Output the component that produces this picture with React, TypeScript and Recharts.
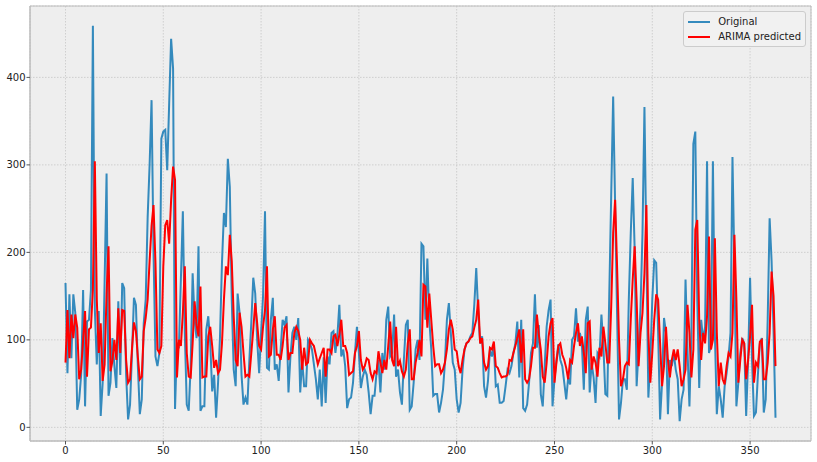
import {
  LineChart,
  Line,
  XAxis,
  YAxis,
  CartesianGrid,
  Legend,
  ReferenceArea,
} from "recharts";

// original series, one value per day (index 0..363)
const original = [
  165, 62, 152, 79, 152, 131, 20, 32, 60, 157,
  24, 121, 123, 157, 459, 135, 72, 133, 13, 51,
  167, 290, 36, 51, 102, 70, 45, 144, 60, 165,
  159, 60, 9, 26, 85, 148, 140, 70, 15, 32,
  119, 146, 240, 300, 374, 200, 81, 70, 85, 330,
  338, 340, 294, 370, 444, 410, 21, 96, 93, 170,
  247, 108, 26, 19, 70, 176, 123, 102, 207, 19,
  24, 24, 112, 127, 96, 41, 60, 11, 51, 104,
  188, 245, 229, 307, 275, 146, 66, 47, 153, 131,
  60, 26, 34, 26, 77, 120, 171, 153, 100, 62,
  108, 150, 247, 68, 66, 123, 148, 66, 72, 53,
  89, 123, 117, 127, 40, 81, 108, 115, 100, 125,
  40, 77, 47, 47, 100, 96, 89, 72, 55, 32,
  66, 24, 80, 28, 81, 72, 108, 110, 85, 104,
  140, 81, 89, 70, 22, 32, 34, 51, 85, 115,
  85, 45, 58, 66, 60, 40, 15, 36, 36, 62,
  77, 40, 85, 66, 123, 138, 81, 85, 129, 58,
  66, 40, 26, 77, 117, 123, 20, 24, 51, 89,
  100, 77, 210, 207, 123, 193, 123, 89, 36, 38,
  38, 17, 28, 43, 74, 123, 142, 108, 74, 66,
  32, 17, 28, 66, 89, 96, 98, 104, 108, 140,
  182, 131, 96, 104, 47, 34, 53, 89, 81, 93,
  47, 49, 28, 28, 30, 47, 66, 62, 70, 85,
  96, 121, 57, 123, 22, 19, 26, 51, 85, 96,
  152, 91, 117, 38, 24, 70, 115, 134, 146, 24,
  55, 77, 95, 77, 70, 51, 32, 57, 49, 100,
  104, 136, 98, 108, 96, 43, 123, 138, 40, 74,
  57, 28, 85, 81, 129, 93, 38, 36, 150, 265,
  378, 255, 130, 9, 28, 55, 55, 43, 146, 222,
  285, 203, 47, 89, 138, 222, 366, 200, 34, 77,
  146, 191, 188, 108, 9, 51, 125, 108, 15, 77,
  70, 85, 66, 55, 7, 32, 43, 169, 89, 24,
  108, 324, 338, 146, 45, 123, 100, 115, 304, 85,
  93, 304, 108, 15, 47, 32, 11, 47, 62, 81,
  108, 309, 184, 24, 51, 85, 102, 96, 13, 77,
  171, 77, 13, 17, 60, 96, 102, 17, 32, 123,
  239, 190, 110, 11,
];

// one-step ARIMA predictions
const predicted = [
  74, 134, 79, 129, 102, 129, 114, 55, 66, 100,
  133, 58, 112, 114, 157, 304, 146, 85, 119, 53,
  72, 153, 207, 64, 76, 100, 77, 136, 85, 134,
  133, 77, 51, 55, 90, 120, 110, 80, 55, 58,
  110, 125, 146, 190, 230, 254, 188, 89, 85, 93,
  184, 231, 237, 210, 260, 298, 283, 57, 100, 93,
  131, 184, 85, 58, 57, 96, 144, 117, 104, 161,
  57, 58, 58, 104, 115, 93, 68, 77, 62, 66,
  96, 146, 184, 174, 220, 190, 127, 77, 70, 131,
  115, 85, 58, 60, 58, 85, 112, 142, 119, 93,
  89, 115, 134, 184, 81, 83, 112, 127, 83, 83,
  77, 93, 114, 117, 77, 85, 85, 108, 115, 110,
  100, 66, 91, 72, 74, 100, 96, 93, 83, 72,
  79, 85, 91, 58, 89, 89, 85, 104, 106, 93,
  106, 123, 93, 93, 85, 60, 62, 64, 85, 93,
  110, 77, 66, 70, 79, 77, 62, 55, 64, 62,
  87, 74, 62, 77, 66, 93, 121, 77, 70, 115,
  70, 76, 64, 58, 66, 96, 112, 55, 55, 74,
  85, 100, 81, 163, 161, 114, 153, 123, 93, 70,
  72, 72, 62, 66, 74, 89, 112, 123, 112, 89,
  87, 70, 62, 77, 89, 96, 98, 102, 104, 114,
  123, 146, 96, 102, 74, 66, 70, 91, 89, 98,
  70, 68, 62, 57, 58, 58, 60, 77, 76, 85,
  93, 102, 112, 74, 112, 55, 51, 55, 70, 91,
  91, 129, 106, 89, 58, 51, 74, 104, 119, 125,
  51, 74, 93, 96, 83, 77, 68, 55, 77, 74,
  93, 108, 119, 93, 104, 85, 62, 119, 121, 66,
  81, 74, 58, 91, 81, 115, 96, 74, 74, 138,
  222, 260, 184, 100, 47, 55, 70, 74, 72, 123,
  169, 207, 146, 70, 108, 131, 176, 254, 108, 51,
  85, 123, 152, 146, 96, 47, 70, 115, 77, 57,
  77, 89, 77, 89, 70, 47, 55, 66, 140, 108,
  57, 89, 226, 237, 123, 77, 108, 96, 127, 218,
  89, 100, 216, 108, 47, 74, 55, 49, 70, 85,
  81, 108, 220, 146, 51, 77, 100, 96, 55, 77,
  104, 140, 51, 74, 70, 98, 100, 55, 55, 74,
  108, 178, 150, 70,
];

const xTicks = [0, 50, 100, 150, 200, 250, 300, 350];
const yTicks = [0, 100, 200, 300, 400];
const seriesOrder = ["original", "predicted"];

const data = original.map((v, i) => ({ x: i, original: v, predicted: predicted[i] }));

const FONT = "'DejaVu Sans', sans-serif";

const renderLegend = (props: any) => {
  const items = [...(props.payload || [])].sort(
    (a: any, b: any) => seriesOrder.indexOf(a.dataKey) - seriesOrder.indexOf(b.dataKey)
  );
  return (
    <div
      style={{
        background: "rgba(241,241,241,0.9)",
        border: "1px solid #cccccc",
        borderRadius: 3,
        padding: "2px 4px 2px 4px",
        fontFamily: FONT,
        fontSize: 10,
        color: "#222",
      }}
    >
      {items.map((entry: any) => (
        <div key={entry.value} style={{ display: "flex", alignItems: "center", height: 15 }}>
          <span
            style={{
              display: "inline-block",
              width: 22,
              height: 2,
              background: entry.color,
              marginRight: 8,
            }}
          />
          <span>{entry.value}</span>
        </div>
      ))}
    </div>
  );
};

const App = () => {
  return (
    <div style={{ position: "absolute", left: 0, top: 0, width: 817, height: 462, background: "#fff" }}>
      <LineChart
        width={817}
        height={462}
        data={data}
        margin={{ top: 6, right: 6, left: 0, bottom: 0 }}
      >
        <CartesianGrid
          fill="#EEEEEE"
          stroke="#c6c6c6"
          strokeDasharray="1.5 1.5"
          strokeWidth={0.8}
        />
        <XAxis
          dataKey="x"
          type="number"
          domain={[-18.15, 381.15]}
          ticks={xTicks}
          allowDataOverflow
          height={21}
          axisLine={{ stroke: "#bcbcbc" }}
          tickLine={{ stroke: "#555" }}
          tickSize={3.5}
          tickMargin={2}
          tick={{ fill: "#222", fontSize: 10, fontFamily: FONT }}
        />
        <YAxis
          type="number"
          domain={[-15.6, 481.6]}
          ticks={yTicks}
          allowDataOverflow
          width={30}
          axisLine={{ stroke: "#bcbcbc" }}
          tickLine={{ stroke: "#555" }}
          tickSize={3.5}
          tickMargin={1}
          tick={{ fill: "#222", fontSize: 10, fontFamily: FONT }}
        />
        <ReferenceArea
          x1={-18.15}
          x2={381.15}
          y1={-15.6}
          y2={481.6}
          fill="none"
          stroke="#bcbcbc"
          strokeWidth={1}
          ifOverflow="visible"
        />
        <Line
          type="linear"
          dataKey="original"
          name="Original"
          stroke="#348ABD"
          strokeWidth={2}
          dot={false}
          isAnimationActive={false}
        />
        <Line
          type="linear"
          dataKey="predicted"
          name="ARIMA predicted"
          stroke="#FF0000"
          strokeWidth={2}
          dot={false}
          isAnimationActive={false}
        />
        <Legend
          layout="vertical"
          align="center"
          verticalAlign="middle"
          wrapperStyle={{ top: 11, right: 11, left: "auto", width: "auto" }}
          content={renderLegend}
        />
      </LineChart>
    </div>
  );
};

export default App;
